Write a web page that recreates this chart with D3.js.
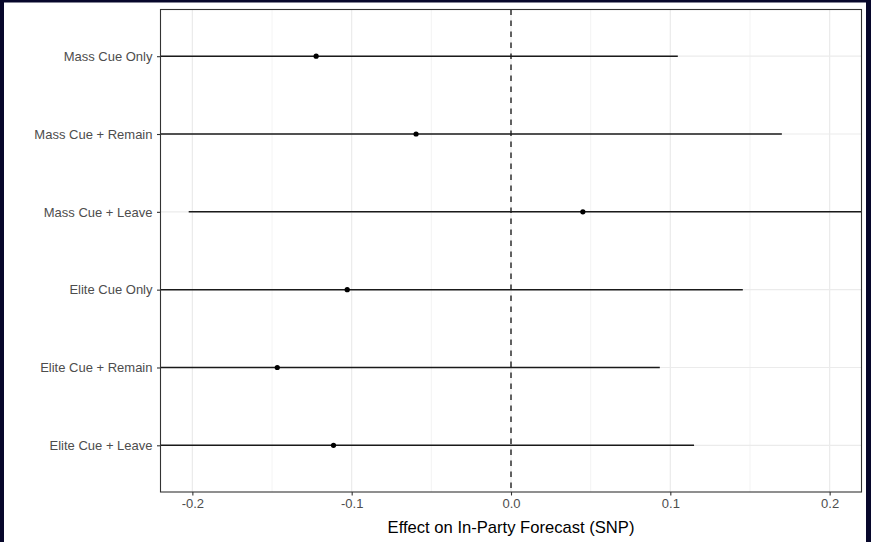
<!DOCTYPE html>
<html>
<head>
<meta charset="utf-8">
<script src="https://cdn.jsdelivr.net/npm/d3@7"></script>
<style>
  html, body { margin: 0; padding: 0; background: #ffffff; }
  svg { display: block; }
</style>
</head>
<body>
<script>
const categories = ["Mass Cue Only", "Mass Cue + Remain", "Mass Cue + Leave", "Elite Cue Only", "Elite Cue + Remain", "Elite Cue + Leave"];
const estimates = [-0.1223, -0.0596, 0.0451, -0.1028, -0.1467, -0.1114];
const lowerCI   = [-0.349, -0.289, -0.2023, -0.351, -0.387, -0.338];
const upperCI   = [0.1047, 0.1700, 0.2925, 0.1455, 0.0934, 0.1149];
const xTicks = [-0.2, -0.1, 0.0, 0.1, 0.2];
const xMinorTicks = [-0.15, -0.05, 0.05, 0.15];
const xTitle = "Effect on In-Party Forecast (SNP)";

const W = 871, H = 542;
const svg = d3.select("body").append("svg").attr("width", W).attr("height", H);

// outer navy frame
svg.append("rect").attr("x", 0).attr("y", 0).attr("width", W).attr("height", H).attr("fill", "#07072b");
svg.append("rect").attr("x", 4).attr("y", 2.5).attr("width", 862).attr("height", H - 2.5).attr("fill", "#ffffff");

const panel = { left: 160.5, right: 861.5, top: 9.5, bottom: 492 };

const x = d3.scaleLinear().domain([-0.22, 0.22]).range([panel.left, panel.right]);
const y = d3.scalePoint().domain(categories).range([panel.top, panel.bottom]).padding(0.6);

const clipId = "panelclip";
svg.append("clipPath").attr("id", clipId).append("rect")
  .attr("x", panel.left).attr("y", panel.top)
  .attr("width", panel.right - panel.left).attr("height", panel.bottom - panel.top);

const g = svg.append("g");

// minor grid
g.selectAll(".minor").data(xMinorTicks).enter().append("line")
  .attr("x1", d => x(d)).attr("x2", d => x(d))
  .attr("y1", panel.top).attr("y2", panel.bottom)
  .attr("stroke", "#f2f2f2").attr("stroke-width", 0.9);

// major grid
g.selectAll(".majx").data(xTicks).enter().append("line")
  .attr("x1", d => x(d)).attr("x2", d => x(d))
  .attr("y1", panel.top).attr("y2", panel.bottom)
  .attr("stroke", "#ebebeb").attr("stroke-width", 1.2);
g.selectAll(".majy").data(categories).enter().append("line")
  .attr("x1", panel.left).attr("x2", panel.right)
  .attr("y1", d => y(d)).attr("y2", d => y(d))
  .attr("stroke", "#ebebeb").attr("stroke-width", 1.2);

// reference dashed line at 0
g.append("line")
  .attr("x1", x(0)).attr("x2", x(0))
  .attr("y1", panel.top).attr("y2", panel.bottom)
  .attr("stroke", "#222").attr("stroke-width", 1.4)
  .attr("stroke-dasharray", "5.5,5.5");

// intervals
const data = categories.map((c, i) => ({ c, est: estimates[i], lo: lowerCI[i], hi: upperCI[i] }));
const marks = g.append("g").attr("clip-path", `url(#${clipId})`);
marks.selectAll(".ci").data(data).enter().append("line")
  .attr("x1", d => x(d.lo)).attr("x2", d => x(d.hi))
  .attr("y1", d => y(d.c)).attr("y2", d => y(d.c))
  .attr("stroke", "#1a1a1a").attr("stroke-width", 1.5);
marks.selectAll(".pt").data(data).enter().append("circle")
  .attr("cx", d => x(d.est)).attr("cy", d => y(d.c)).attr("r", 2.6)
  .attr("fill", "#000");

// panel border
g.append("rect")
  .attr("x", panel.left).attr("y", panel.top)
  .attr("width", panel.right - panel.left).attr("height", panel.bottom - panel.top)
  .attr("fill", "none").attr("stroke", "#333333").attr("stroke-width", 1.1);

// axes
const xAxis = d3.axisBottom(x).tickValues(xTicks).tickSize(3.5).tickPadding(3.5)
  .tickFormat(d3.format(".1f"));
const xa = svg.append("g").attr("transform", `translate(0,${panel.bottom})`).call(xAxis);
xa.select(".domain").remove();
xa.selectAll("line").attr("stroke", "#333333").attr("stroke-width", 1.1);
xa.selectAll("text").attr("fill", "#4d4d4d").attr("font-size", "13px")
  .attr("font-family", "'Liberation Sans', Arial, sans-serif")
  .text(d => d < 0 ? "-" + Math.abs(d).toFixed(1) : d.toFixed(1));

const yAxis = d3.axisLeft(y).tickSize(3.5).tickPadding(4.5);
const ya = svg.append("g").attr("transform", `translate(${panel.left},0)`).call(yAxis);
ya.select(".domain").remove();
ya.selectAll("line").attr("stroke", "#333333").attr("stroke-width", 1.1);
ya.selectAll("text").attr("fill", "#4d4d4d").attr("font-size", "13px")
  .attr("font-family", "'Liberation Sans', Arial, sans-serif");

svg.append("text")
  .attr("x", (panel.left + panel.right) / 2).attr("y", 533)
  .attr("text-anchor", "middle")
  .attr("font-family", "'Liberation Sans', Arial, sans-serif")
  .attr("font-size", "16.6px").attr("fill", "#000")
  .text(xTitle);
</script>
</body>
</html>
